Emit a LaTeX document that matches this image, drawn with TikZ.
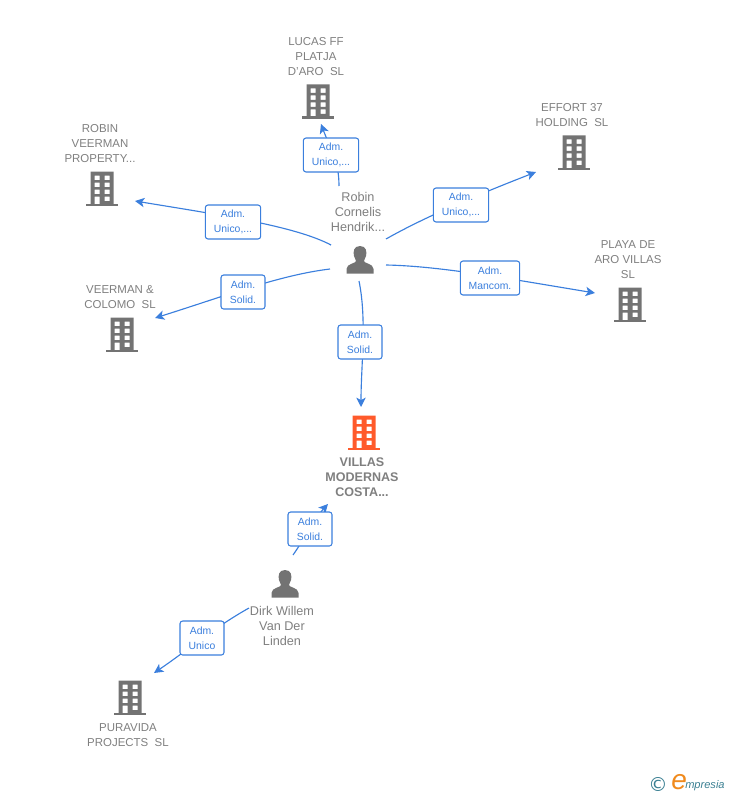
\documentclass[tikz,border=0pt]{standalone}
\usepackage{fontspec}
\setmainfont{Liberation Sans}
\newfontfamily\symfont{DejaVu Sans}
\usetikzlibrary{arrows.meta,backgrounds}
\definecolor{edgeblue}{HTML}{3B7FDD}
\definecolor{labelblue}{HTML}{3B7FDD}
\definecolor{icongray}{HTML}{737373}
\definecolor{textgray}{HTML}{7F7F7F}
\definecolor{hotorange}{HTML}{FF5A2B}
\definecolor{logoteal}{HTML}{3A7F92}
\definecolor{logoorange}{HTML}{F08A1D}
\tikzset{
  x=0.75pt,y=-0.75pt,
  edge/.style={draw=edgeblue,line width=0.85pt,-{Stealth[length=7pt,width=7pt,inset=1.8pt]}},
  rolebox/.style={draw=edgeblue,fill=white,rounded corners=2pt,line width=0.8pt,align=center,
    text=labelblue,font=\fontsize{7.8}{11.3}\selectfont,inner sep=0pt,minimum height=25.5pt},
  wideone/.style={minimum width=41.5pt},
  narrowone/.style={minimum width=33pt},
  mancbox/.style={minimum width=44.5pt,fill=white},
  caption/.style={align=center,text=textgray,font=\fontsize{8.6}{11.3}\selectfont,inner sep=0pt},
  hotcaption/.style={align=center,text=textgray,font=\bfseries\fontsize{9.4}{11.3}\selectfont,inner sep=0pt},
  personcaption/.style={align=center,text=textgray,font=\fontsize{9.5}{11.3}\selectfont,inner sep=0pt},
  pics/tower/.style={code={
    \fill[#1] (-16,15.5) rectangle (16,18);
    \fill[#1,even odd rule] (-11.5,-16.5) rectangle (11.5,16)
      (-7.5,-12.5) rectangle (-2.5,-8) (2.5,-12.5) rectangle (7.5,-8)
      (-7.5,-5.5) rectangle (-2.5,-1) (2.5,-5.5) rectangle (7.5,-1)
      (-7.5,1.5) rectangle (-2.5,6) (2.5,1.5) rectangle (7.5,6)
      (-7.5,8.5) rectangle (-2.5,16) (2.5,8.5) rectangle (7.5,13);
  }},
  pics/human/.style={code={
    \fill[icongray] (0,-14) .. controls (-6.5,-14) and (-7,-8) .. (-6,-4)
      .. controls (-5.5,-1.5) and (-4,-0.5) .. (-4,1)
      .. controls (-4,3.5) and (-13.5,3.5) .. (-13.5,9)
      -- (-13.5,13.5) -- (13.5,13.5) -- (13.5,9)
      .. controls (13.5,3.5) and (4,3.5) .. (4,1)
      .. controls (4,-0.5) and (5.5,-1.5) .. (6,-4)
      .. controls (7,-8) and (6.5,-14) .. (0,-14) -- cycle;
  }},
}
\begin{document}
\begin{tikzpicture}
\useasboundingbox (0,0) rectangle (728,795);
% icons
\pic at (318,101) {tower=icongray};
\pic at (574,152) {tower=icongray};
\pic at (102,188) {tower=icongray};
\pic at (122,334) {tower=icongray};
\pic at (630,304) {tower=icongray};
\pic at (364,432) {tower=hotorange};
\pic at (130,697) {tower=icongray};
\pic at (360,260) {human};
\pic at (285,584) {human};
% captions
\node[caption] (lucas) at (316,56.5) {LUCAS FF\\PLATJA\\D'ARO\ \ SL};
\node[caption] (effort) at (572,115) {EFFORT 37\\HOLDING\ \ SL};
\node[caption] (robinv) at (100,143.5) {ROBIN\\VEERMAN\\PROPERTY...};
\node[caption] (veerman) at (120,297) {VEERMAN \&\\COLOMO\ \ SL};
\node[caption] (playa) at (628,259.5) {PLAYA DE\\ARO VILLAS\\SL};
\node[hotcaption] (villas) at (362,477.5) {VILLAS\\MODERNAS\\COSTA...};
\node[caption] (puravida) at (128,735) {PURAVIDA\\PROJECTS\ \ SL};
\node[personcaption] (robin) at (358,212) {Robin\\Cornelis\\Hendrik...};
\node[personcaption] (dirk) at (282,626) {Dirk Willem\\Van Der\\Linden};
% role labels
\node[rolebox,wideone] (rlucas) at (331,155) {Adm.\\Unico,...};
\node[rolebox,wideone] (reffort) at (461,205) {Adm.\\Unico,...};
\node[rolebox,wideone] (rrobinv) at (233,222) {Adm.\\Unico,...};
\node[rolebox,narrowone] (rveerman) at (243,292) {Adm.\\Solid.};
\node[rolebox,mancbox] (rplaya) at (490,278) {Adm.\\Mancom.};
\node[rolebox,narrowone] (rvillas) at (360,342) {Adm.\\Solid.};
\node[rolebox,narrowone] (rdirk) at (310,529) {Adm.\\Solid.};
\node[rolebox,narrowone] (rpura) at (202,638) {Adm.\\Unico};
% free ends
\coordinate (sl) at (339,186);
\coordinate (el) at (321,124);
\coordinate (se) at (386,239);
\coordinate (ee) at (536,172);
\coordinate (sr) at (331,245);
\coordinate (er) at (135,201);
\coordinate (sv) at (330,269);
\coordinate (ev) at (155,318);
\coordinate (sp) at (386,265);
\coordinate (ep) at (595,293);
\coordinate (sm) at (359,281);
\coordinate (em) at (361,407);
\coordinate (sd) at (293,555);
\coordinate (ed) at (328,504);
\coordinate (su) at (249,608);
\coordinate (eu) at (154,673);
% connectors
\begin{scope}[on background layer]
\draw[edge] (sl) .. controls (339,160) and (330,148) .. (el);
\draw[edge] (se) .. controls (430,214) and (490,190) .. (ee);
\draw[edge] (sr) .. controls (295,226) and (220,215) .. (er);
\draw[edge] (sv) .. controls (280,275) and (225,296) .. (ev);
\draw[edge] (sp) .. controls (440,266) and (510,279) .. (ep);
\draw[edge] (sm) .. controls (367,320) and (361,365) .. (em);
\draw[edge] (sd) .. controls (305,538) and (315,518) .. (ed);
\draw[edge] (su) .. controls (215,627) and (185,652) .. (eu);
\end{scope}
% logo
\node[inner sep=0pt,text=logoteal,font=\symfont\fontsize{14.5}{15}\selectfont] (copy) at (658,784) {©};
\node[inner sep=0pt,anchor=base west,text=logoorange,font=\itshape\fontsize{21}{21}\selectfont] (elogo) at (671,789) {e};
\node[inner sep=0pt,anchor=base west,text=logoteal,font=\itshape\fontsize{8.3}{10}\selectfont] (rest) at (685,788) {mpresia};
\end{tikzpicture}
\end{document}
